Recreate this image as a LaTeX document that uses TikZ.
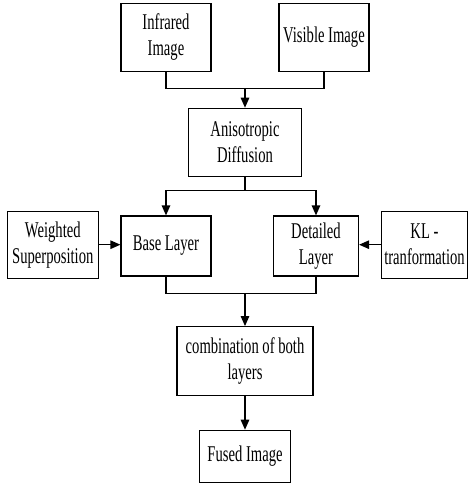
\documentclass[tikz,border=0pt]{standalone}
\usepackage{fontspec}
\setmainfont{Liberation Serif}[FakeStretch=0.65]
\usetikzlibrary{arrows.meta}
\begin{document}
\begin{tikzpicture}[x=1pt, y=-1pt,
  block/.style={line width=1.2pt, shape=rectangle, draw=black, align=center, inner sep=2pt,
    font=\fontsize{22.5}{26}\selectfont},
  flow/.style={line width=1.2pt, -{Triangle[length=10pt,width=8.5pt]}}]
\useasboundingbox (0,0) rectangle (468,484);
\node[block, minimum width=90pt, minimum height=68pt](infrared) at (166,37.5) {Infrared\\Image};
\node[block, minimum width=90pt, minimum height=68pt](visible) at (324,37.5) {Visible Image};
\node[block, minimum width=113pt, minimum height=68pt](aniso) at (245,142.3) {Anisotropic\\Diffusion};
\node[block, minimum width=90pt, minimum height=60pt](base) at (166,246) {Base Layer};
\node[block, minimum width=85pt, minimum height=60pt](detailed) at (316,246) {Detailed\\Layer};
\node[block, minimum width=91pt, minimum height=67pt](weighted) at (52.8,244.7) {Weighted\\Superposition};
\node[block, minimum width=86pt, minimum height=67pt](kl) at (424.5,244.7) {KL -\\tranformation};
\node[block, minimum width=136pt, minimum height=69pt](comb) at (245,361.2) {combination of both\\layers};
\node[block, minimum width=91pt, minimum height=52pt](fused) at (245,456.3) {Fused Image};
\coordinate (j1) at (245,88.3);
\coordinate (j2) at (245,190.5);
\coordinate (j3) at (245,293.3);
\draw[line width=1.2pt] (infrared.south) |- (j1) -| (visible.south);
\draw[flow] (j1) -- (aniso.north);
\draw[line width=1.2pt] (aniso.south) -- (j2);
\draw[flow] (j2) -| (base.north);
\draw[flow] (j2) -| (detailed.north);
\draw[flow] (weighted.east) -- (base.west |- weighted.east);
\draw[flow] (kl.west) -- (detailed.east |- kl.west);
\draw[line width=1.2pt] (base.south) |- (j3) -| (detailed.south);
\draw[flow] (j3) -- (comb.north);
\draw[flow] (comb.south) -- (fused.north);
\end{tikzpicture}
\end{document}
